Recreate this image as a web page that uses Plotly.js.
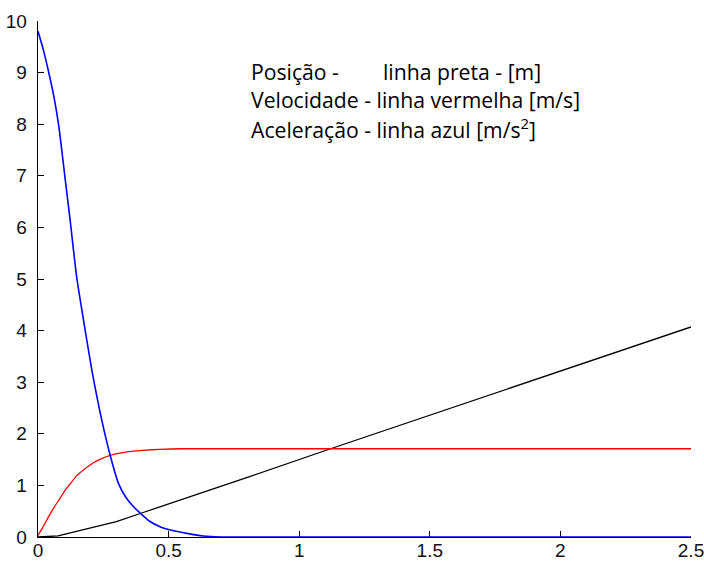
<!DOCTYPE html>
<html>
<head>
<meta charset="utf-8">
<script src="https://cdn.plot.ly/plotly-3.0.1.min.js"></script>
<style>html,body{margin:0;padding:0;background:#fff;}#chart{width:704px;height:563px;}</style>
</head>
<body>
<div id="chart"></div>
<script>
// Posição (linha preta) [m]
const tPos = [0, 0.05, 0.077, 0.1, 0.15, 0.2, 0.25, 0.3, 0.4, 0.5, 0.81, 1.12, 1.5, 1.962, 2.5];
const pos  = [0, 0.01, 0.02, 0.05, 0.11, 0.17, 0.23, 0.30, 0.47, 0.64, 1.17, 1.71, 2.36, 3.15, 4.07];

// Velocidade (linha vermelha) [m/s]
const tVel = [0, 0.02, 0.039, 0.061, 0.084, 0.103, 0.123, 0.148, 0.174, 0.212, 0.244, 0.276, 0.308, 0.34, 0.4, 0.467, 0.55, 0.7, 1.0, 1.5, 2.0, 2.5];
const vel  = [0.03, 0.2, 0.38, 0.57, 0.75, 0.9, 1.03, 1.19, 1.30, 1.44, 1.52, 1.58, 1.62, 1.65, 1.68, 1.70, 1.71, 1.71, 1.71, 1.71, 1.71, 1.71];

// Aceleração (linha azul) [m/s^2]
const tAcc = [0, 0.02, 0.039, 0.061, 0.08, 0.103, 0.123, 0.148, 0.174, 0.206, 0.244, 0.276, 0.308, 0.335, 0.365, 0.429, 0.467, 0.52, 0.57, 0.632, 0.7, 1.0, 1.5, 2.0, 2.5];
const acc  = [9.8, 9.45, 9.05, 8.53, 7.95, 6.98, 6.14, 5.04, 4.21, 3.24, 2.27, 1.59, 1.04, 0.78, 0.59, 0.30, 0.20, 0.12, 0.07, 0.02, 0, 0, 0, 0, 0];

const xTicks = [0, 0.5, 1, 1.5, 2, 2.5];
const xTickText = ['0', '0.5', '1', '1.5', '2', '2.5'];
const yTicks = [0, 1, 2, 3, 4, 5, 6, 7, 8, 9, 10];

const labels = [
  'Posição -',
  'linha preta - [m]',
  'Velocidade - linha vermelha [m/s]',
  'Aceleração - linha azul [m/s<sup>2</sup>]'
];

const traces = [
  {x: tPos, y: pos, mode: 'lines', line: {color: '#000000', width: 1.3}, hoverinfo: 'skip'},
  {x: tVel, y: vel, mode: 'lines', line: {color: '#ff0000', width: 1.3, shape: 'spline', smoothing: 0.5}, hoverinfo: 'skip'},
  {x: tAcc, y: acc, mode: 'lines', line: {color: '#0000ff', width: 1.6, shape: 'spline', smoothing: 0.6}, hoverinfo: 'skip'}
];

const txtFont = {family: 'Open Sans, sans-serif', size: 21.2, color: '#000'};
const layout = {
  width: 704, height: 563,
  margin: {l: 38, r: 13, t: 21, b: 26, pad: 0},
  paper_bgcolor: '#fff', plot_bgcolor: '#fff',
  showlegend: false,
  font: {family: 'Liberation Sans, Arial, sans-serif', size: 18, color: '#111'},
  xaxis: {
    range: [0, 2.5], tickvals: xTicks, ticktext: xTickText,
    ticks: 'inside', ticklen: 6, tickwidth: 1, tickcolor: '#000',
    showline: true, linecolor: '#000', linewidth: 1.3, showgrid: false, zeroline: false,
    layer: 'below traces', ticklabelstandoff: -4, ticklabeloverflow: 'allow',
    tickfont: {family: 'Liberation Sans, Arial, sans-serif', size: 19, color: '#111'}
  },
  yaxis: {
    range: [0, 10], tickvals: yTicks,
    ticks: 'inside', ticklen: 6, tickwidth: 1, tickcolor: '#000',
    showline: true, linecolor: '#000', linewidth: 1.3, showgrid: false, zeroline: false,
    layer: 'below traces', ticklabelstandoff: 6, ticklabeloverflow: 'allow',
    tickfont: {family: 'Liberation Sans, Arial, sans-serif', size: 19, color: '#111'}
  },
  annotations: [
    {xref: 'paper', yref: 'paper', x: 0.323, y: 0.902, xanchor: 'left', yanchor: 'middle', showarrow: false, text: labels[0], font: txtFont},
    {xref: 'paper', yref: 'paper', x: 0.526, y: 0.902, xanchor: 'left', yanchor: 'middle', showarrow: false, text: labels[1], font: txtFont},
    {xref: 'paper', yref: 'paper', x: 0.323, y: 0.848, xanchor: 'left', yanchor: 'middle', showarrow: false, text: labels[2], font: txtFont},
    {xref: 'paper', yref: 'paper', x: 0.323, y: 0.792, xanchor: 'left', yanchor: 'middle', showarrow: false, text: labels[3], font: txtFont}
  ]
};

Plotly.newPlot('chart', traces, layout, {displayModeBar: false, staticPlot: true});
</script>
</body>
</html>
